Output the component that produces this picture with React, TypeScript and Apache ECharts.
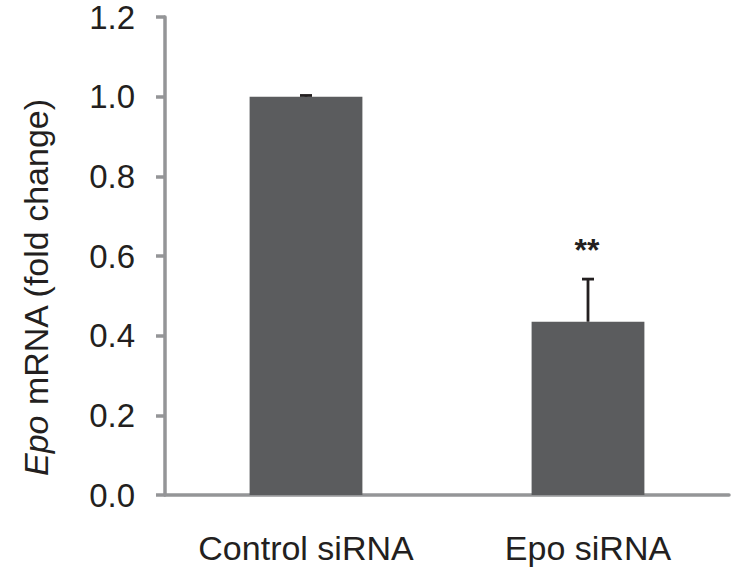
import React, { useEffect, useRef } from "react";
import * as echarts from "echarts";

const categories = ["Control siRNA", "Epo siRNA"];
const values = [1.0, 0.435];
const errors = [0.003, 0.107];
const significance = ["", "**"];
const yTicks = { min: 0, max: 1.2, interval: 0.2 };
const yTitle = "{i|Epo} mRNA (fold change)";

const FONT = "'Liberation Sans', Arial, Helvetica, sans-serif";
const TEXT = "#231f20";
const AXIS = "#949597";
const BAR = "#5b5c5e";

export default function App() {
  const ref = useRef<HTMLDivElement>(null);
  useEffect(() => {
    if (!ref.current) return;
    const chart = echarts.init(ref.current, undefined, { renderer: "svg" });
    chart.setOption({
      animation: false,
      grid: { left: 165, right: 5, top: 17, bottom: 72 },
      graphic: [
        {
          type: "text",
          x: 36,
          y: 287,
          rotation: Math.PI / 2,
          style: {
            text: yTitle,
            fill: TEXT,
            font: `34px ${FONT}`,
            align: "center",
            verticalAlign: "middle",
            rich: {
              i: { fontStyle: "italic", fontSize: 34, fontFamily: FONT, fill: TEXT },
            },
          },
        },
      ],
      xAxis: {
        type: "category",
        data: categories,
        axisTick: { show: false },
        axisLine: { lineStyle: { color: AXIS, width: 3.5 } },
        axisLabel: {
          color: TEXT,
          fontSize: 34,
          lineHeight: 30,
          fontFamily: FONT,
          margin: 38,
          interval: 0,
        },
      },
      yAxis: {
        type: "value",
        min: yTicks.min,
        max: yTicks.max,
        interval: yTicks.interval,
        splitLine: { show: false },
        axisLine: { show: true, lineStyle: { color: AXIS, width: 3.5 } },
        axisTick: { show: true, length: 9, lineStyle: { color: AXIS, width: 3.5 } },
        axisLabel: {
          color: TEXT,
          fontSize: 33,
          lineHeight: 28,
          fontFamily: FONT,
          margin: 30,
          formatter: (v: number) => v.toFixed(1),
        },
      },
      series: [
        {
          type: "bar",
          data: values,
          barWidth: "40%",
          itemStyle: { color: BAR },
          z: 2,
        },
        {
          type: "custom",
          z: 3,
          data: values.map((v, i) => [i, v, errors[i]]),
          renderItem: (params: any, api: any) => {
            const x = api.value(0);
            const v = api.value(1);
            const e = api.value(2);
            const base = api.coord([x, v]);
            const top = api.coord([x, v + e]);
            const half = 6;
            const children: any[] = [
              {
                type: "line",
                shape: { x1: base[0], y1: base[1], x2: top[0], y2: top[1] },
                style: { stroke: TEXT, lineWidth: 2.8 },
              },
              {
                type: "line",
                shape: { x1: top[0] - half, y1: top[1], x2: top[0] + half, y2: top[1] },
                style: { stroke: TEXT, lineWidth: 2.8 },
              },
            ];
            const sig = significance[params.dataIndex];
            if (sig) {
              children.push({
                type: "text",
                x: top[0] - 1,
                y: top[1] - 29,
                style: {
                  text: sig,
                  fill: TEXT,
                  font: `bold 32px ${FONT}`,
                  align: "center",
                  verticalAlign: "middle",
                },
              });
            }
            return { type: "group", children };
          },
        },
      ],
    });
    return () => chart.dispose();
  }, []);
  return (
    <div
      ref={ref}
      style={{ position: "fixed", left: 0, top: 0, width: 734, height: 567, background: "#fff" }}
    />
  );
}
